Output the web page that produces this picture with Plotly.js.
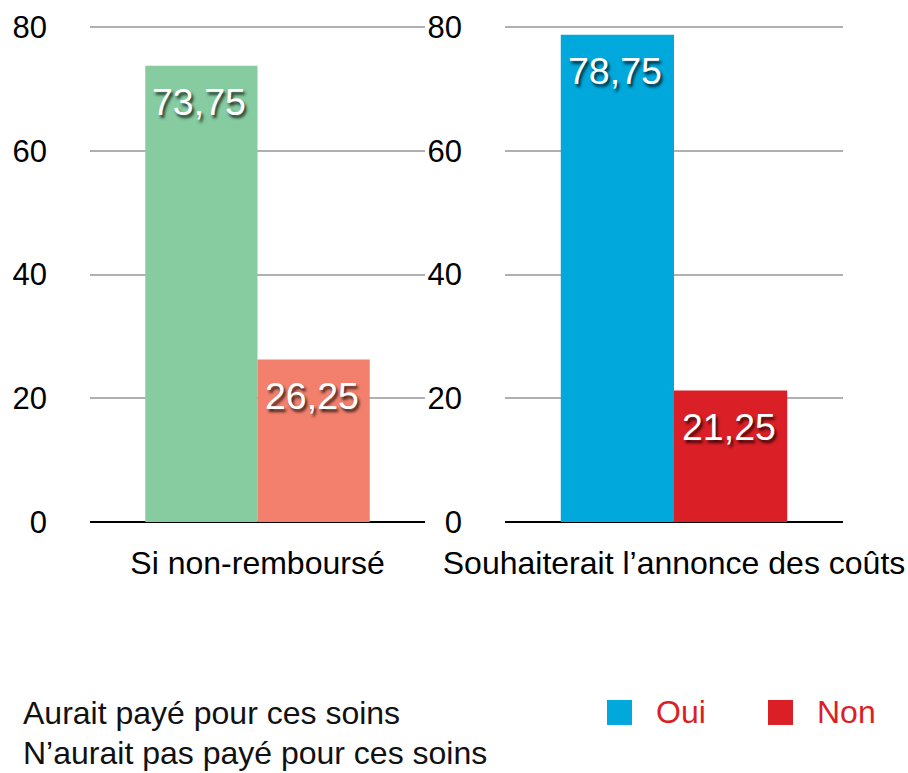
<!DOCTYPE html>
<html>
<head>
<meta charset="utf-8">
<script src="https://cdn.plot.ly/plotly-3.0.1.min.js"></script>
<style>html,body{margin:0;padding:0;background:#fff;}#chart{width:908px;height:773px;}</style>
</head>
<body>
<div id="chart"></div>
<script>
// ---- Data ----
const categoriesLeft = ['Si non-remboursé'];
const categoriesRight = ['Souhaiterait l’annonce des coûts'];
const auraitPaye = [73.75];
const nauraitPasPaye = [26.25];
const oui = [78.75];
const non = [21.25];
const yTicks = [0, 20, 40, 60, 80];
const legendLeftLabels = ['Aurait payé pour ces soins', 'N’aurait pas payé pour ces soins'];
const legendRightLabels = ['Oui', 'Non'];

// ---- Styles ----
const W = 908, H = 773;
const yMax = 80.5;
const plotBottom = 522;
const pxPerUnit = 495 / 80;
const plotTop = plotBottom - yMax * pxPerUnit;
const FONT = 'Liberation Sans, Arial, Helvetica, sans-serif';
const colGreen = '#86cca0', colSalmon = '#f3806c', colBlue = '#00a8dc', colRed = '#db1f26';
const gridCol = '#b0b0b0';
const bargap = 0.33;
const leftDom = [90, 425], rightDom = [505, 843];
const px2x = p => p / W;
const px2y = p => (plotBottom - p) / (plotBottom - plotTop);

const traces = [
  {type: 'bar', x: categoriesLeft, y: auraitPaye, name: legendLeftLabels[0], marker: {color: colGreen}, xaxis: 'x', yaxis: 'y', hoverinfo: 'none'},
  {type: 'bar', x: categoriesLeft, y: nauraitPasPaye, name: legendLeftLabels[1], marker: {color: colSalmon}, xaxis: 'x', yaxis: 'y', hoverinfo: 'none'},
  {type: 'bar', x: categoriesRight, y: oui, name: legendRightLabels[0], marker: {color: colBlue}, xaxis: 'x2', yaxis: 'y2', hoverinfo: 'none'},
  {type: 'bar', x: categoriesRight, y: non, name: legendRightLabels[1], marker: {color: colRed}, xaxis: 'x2', yaxis: 'y2', hoverinfo: 'none'}
];

const fmt = v => v.toFixed(2).replace('.', ',');
const labelFont = {family: FONT, size: 37.5, color: '#ffffff', shadow: '2px 3px 3px rgba(0,0,0,0.75)'};
function barLabels(xref, yref, cat, vals, dom) {
  const barPx = (dom[1] - dom[0]) * (1 - bargap) / 2;
  return vals.map((v, i) => ({
    xref: xref, yref: yref, x: cat[0], y: v, text: fmt(v), showarrow: false,
    xanchor: 'center', yanchor: 'middle', xshift: (i === 0 ? -1 : 1) * barPx / 2 - 2, yshift: -36,
    font: labelFont
  }));
}

const legFont = {family: FONT, size: 32, color: '#111'};
const annotations = [
  ...barLabels('x', 'y', categoriesLeft, [auraitPaye[0], nauraitPasPaye[0]], leftDom),
  ...barLabels('x2', 'y2', categoriesRight, [oui[0], non[0]], rightDom),
  {xref: 'paper', yref: 'paper', x: px2x(21), y: px2y(713), text: legendLeftLabels[0], showarrow: false, xanchor: 'left', yanchor: 'middle', font: legFont},
  {xref: 'paper', yref: 'paper', x: px2x(21), y: px2y(753), text: legendLeftLabels[1], showarrow: false, xanchor: 'left', yanchor: 'middle', font: legFont},
  {xref: 'paper', yref: 'paper', x: px2x(654), y: px2y(712), text: legendRightLabels[0], showarrow: false, xanchor: 'left', yanchor: 'middle', font: Object.assign({}, legFont, {color: colRed})},
  {xref: 'paper', yref: 'paper', x: px2x(815), y: px2y(712), text: legendRightLabels[1], showarrow: false, xanchor: 'left', yanchor: 'middle', font: Object.assign({}, legFont, {color: colRed})}
];

const shapes = [
  {type: 'rect', xref: 'paper', yref: 'paper', x0: px2x(607), x1: px2x(632), y0: px2y(725), y1: px2y(700), fillcolor: colBlue, line: {width: 0}},
  {type: 'rect', xref: 'paper', yref: 'paper', x0: px2x(768), x1: px2x(793), y0: px2y(725), y1: px2y(700), fillcolor: colRed, line: {width: 0}}
];

const yax = {
  range: [0, yMax], tickvals: yTicks, ticktext: yTicks.map(String), showgrid: true, gridcolor: gridCol, gridwidth: 2,
  zeroline: true, zerolinecolor: '#000', zerolinewidth: 2, showline: false, ticks: '',
  tickfont: {family: FONT, size: 31, color: '#000'}, ticklabelstandoff: 42, fixedrange: true
};
const xax = {
  showgrid: false, zeroline: false, showline: false, ticks: '',
  tickfont: {family: FONT, size: 32, color: '#000'}, ticklabelstandoff: 19, fixedrange: true
};

const layout = {
  width: W, height: H,
  margin: {l: 0, r: 0, t: plotTop, b: H - plotBottom, pad: 0},
  paper_bgcolor: '#fff', plot_bgcolor: 'rgba(0,0,0,0)',
  showlegend: false, barmode: 'group', bargap: bargap, bargroupgap: 0,
  separators: ', ',
  xaxis: Object.assign({}, xax, {domain: [px2x(leftDom[0]), px2x(leftDom[1])], anchor: 'y'}),
  xaxis2: Object.assign({}, xax, {domain: [px2x(rightDom[0]), px2x(rightDom[1])], anchor: 'y2'}),
  yaxis: Object.assign({}, yax, {anchor: 'x'}),
  yaxis2: Object.assign({}, yax, {anchor: 'x2'}),
  annotations: annotations,
  shapes: shapes,
  font: {family: FONT}
};

Plotly.newPlot('chart', traces, layout, {staticPlot: true, displayModeBar: false});
</script>
</body>
</html>
